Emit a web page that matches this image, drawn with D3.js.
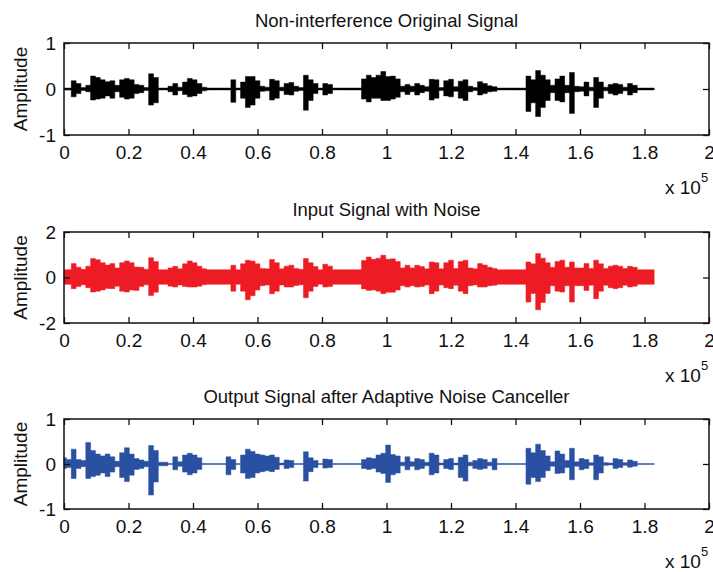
<!DOCTYPE html>
<html>
<head>
<meta charset="utf-8">
<script src="https://cdn.jsdelivr.net/npm/d3@7"></script>
<style>
  body { margin: 0; background: #fff; }
  svg { display: block; font-family: "Liberation Sans", Arial, sans-serif; }
</style>
</head>
<body>
<svg width="713" height="572"></svg>
<script>
var sampleStep = 1500;
var xTicks = [0, 20000, 40000, 60000, 80000, 100000, 120000, 140000, 160000, 180000, 200000];

var origHi = [.02,.02,.18,.12,.03,.08,.28,.25,.2,.16, .18,.08,.2,.23,.2,.1,.08,.03,.33,.25,
  .02,.02,.06,.12,.04,.15,.23,.2,.12,.04, .02,.02,.02,.02,.02,.2,.02,.15,.27,.27,
  .18,.06,.04,.21,.18,.04,.12,.14,.06,.03, .3,.2,.12,.02,.12,.1,.02,.02,.02,.02,
  .02,.02,.22,.3,.25,.3,.38,.27,.28,.22, .06,.1,.06,.12,.08,.05,.21,.2,.03,.18,
  .21,.05,.17,.2,.06,.03,.16,.12,.07,.05, .02,.02,.02,.02,.02,.02,.28,.2,.4,.3,
  .2,.08,.22,.28,.08,.36,.06,.05,.15,.04, .25,.15,.04,.1,.12,.1,.04,.12,.08,.02, .02,.02,.02];
var origLo = [-.02,-.02,-.17,-.1,-.03,-.06,-.24,-.22,-.2,-.15, -.2,-.06,-.18,-.22,-.2,-.1,-.08,-.03,-.35,-.3,
  -.02,-.02,-.06,-.13,-.04,-.12,-.17,-.15,-.1,-.04, -.02,-.02,-.02,-.02,-.02,-.29,-.02,-.2,-.4,-.35,
  -.2,-.05,-.04,-.24,-.2,-.04,-.12,-.13,-.05,-.03, -.46,-.25,-.1,-.02,-.13,-.1,-.02,-.02,-.02,-.02,
  -.02,-.02,-.22,-.28,-.2,-.2,-.25,-.25,-.22,-.18, -.06,-.12,-.06,-.13,-.08,-.05,-.24,-.2,-.03,-.15,
  -.17,-.05,-.2,-.25,-.06,-.03,-.13,-.1,-.06,-.05, -.02,-.02,-.02,-.02,-.02,-.02,-.49,-.3,-.6,-.4,
  -.25,-.08,-.25,-.28,-.08,-.53,-.06,-.05,-.15,-.04, -.4,-.2,-.04,-.1,-.13,-.1,-.04,-.13,-.08,-.02, -.02,-.02,-.02];

var noisyHi = [.34,.34,.61,.45,.36,.5,.83,.78,.65,.55, .61,.42,.65,.73,.65,.46,.45,.36,.87,.7,
  .34,.34,.42,.49,.38,.6,.73,.65,.5,.38, .34,.34,.34,.34,.34,.54,.34,.6,.76,.72,
  .6,.4,.38,.79,.65,.38,.5,.54,.4,.36, .83,.65,.48,.34,.58,.5,.34,.34,.34,.34,
  .34,.34,.75,.9,.8,.85,.98,.8,.82,.7, .42,.54,.42,.54,.48,.38,.68,.65,.38,.65,
  .76,.4,.7,.76,.42,.38,.61,.55,.45,.4, .34,.34,.34,.34,.34,.34,.68,.6,1.05,.85,
  .65,.45,.7,.76,.45,.68,.42,.42,.61,.4, .76,.6,.4,.5,.54,.5,.4,.49,.45,.34, .34,.34,.34];
var noisyLo = [-.3,-.3,-.49,-.4,-.32,-.45,-.64,-.6,-.55,-.48, -.49,-.38,-.6,-.64,-.55,-.57,-.4,-.32,-.79,-.65,
  -.3,-.3,-.38,-.42,-.33,-.4,-.42,-.42,-.38,-.32, -.3,-.3,-.3,-.3,-.3,-.6,-.3,-.6,-.98,-.8,
  -.55,-.36,-.33,-.71,-.6,-.33,-.42,-.42,-.35,-.32, -.89,-.6,-.4,-.3,-.42,-.4,-.3,-.3,-.3,-.3,
  -.3,-.3,-.5,-.57,-.55,-.6,-.71,-.65,-.65,-.55, -.36,-.42,-.36,-.42,-.4,-.33,-.71,-.6,-.33,-.45,
  -.49,-.34,-.6,-.71,-.36,-.33,-.42,-.42,-.36,-.34, -.3,-.3,-.3,-.3,-.3,-.3,-1.08,-.7,-1.42,-1.1,
  -.7,-.36,-.6,-.64,-.36,-1.08,-.36,-.36,-.57,-.34, -.93,-.6,-.34,-.45,-.49,-.45,-.34,-.42,-.38,-.3, -.3,-.3,-.3];

var outHi = [.14,.1,.33,.1,.08,.48,.3,.22,.18,.22, .16,.06,.25,.36,.22,.12,.09,.06,.41,.3,
  .04,.04,.01,.16,.05,.2,.24,.2,.14,.01, .01,.01,.01,.01,.16,.1,.01,.2,.33,.28,
  .22,.2,.18,.2,.15,.02,.09,.08,.01,.01, .27,.14,.08,.01,.11,.1,.01,.01,.01,.01,
  .01,.01,.1,.14,.12,.2,.24,.42,.21,.18, .04,.16,.05,.12,.1,.04,.24,.2,.02,.1,
  .12,.02,.15,.2,.04,.08,.12,.1,.04,.12, .01,.01,.01,.01,.01,.01,.35,.25,.44,.3,
  .18,.05,.29,.22,.08,.35,.05,.12,.1,.03, .2,.16,.03,.02,.12,.1,.03,.09,.06,.01, .01,.01,.01];
var outLo = [-.1,-.08,-.32,-.1,-.06,-.32,-.28,-.25,-.2,-.28, -.18,-.06,-.3,-.39,-.25,-.12,-.1,-.06,-.69,-.4,
  -.04,-.04,-.01,-.13,-.05,-.18,-.24,-.2,-.12,-.01, -.01,-.01,-.01,-.01,-.24,-.12,-.01,-.2,-.32,-.3,
  -.2,-.17,-.15,-.17,-.12,-.02,-.1,-.08,-.01,-.01, -.38,-.17,-.08,-.01,-.09,-.08,-.01,-.01,-.01,-.01,
  -.01,-.01,-.1,-.12,-.1,-.18,-.21,-.41,-.24,-.2, -.04,-.13,-.05,-.13,-.1,-.04,-.24,-.2,-.02,-.1,
  -.12,-.02,-.3,-.38,-.04,-.1,-.12,-.1,-.04,-.13, -.01,-.01,-.01,-.01,-.01,-.01,-.45,-.3,-.39,-.3,
  -.15,-.05,-.21,-.2,-.08,-.35,-.05,-.13,-.1,-.03, -.35,-.2,-.03,-.02,-.1,-.08,-.03,-.07,-.05,-.01, -.01,-.01,-.01];

var titles = ["Non-interference Original Signal", "Input Signal with Noise", "Output Signal after Adaptive Noise Canceller"];
var yTickSets = [[-1, 0, 1], [-2, 0, 2], [-1, 0, 1]];

var panels = [
  {top: 43, bottom: 135, title: titles[0], yTicks: yTickSets[0], hi: origHi, lo: origLo, color: "#000000"},
  {top: 232, bottom: 323, title: titles[1], yTicks: yTickSets[1], hi: noisyHi, lo: noisyLo, color: "#ed1c24"},
  {top: 419, bottom: 509, title: titles[2], yTicks: yTickSets[2], hi: outHi, lo: outLo, color: "#2a50a2"}
];

var svg = d3.select("svg");
var left = 64, right = 709;
var x = d3.scaleLinear().domain([0, 200000]).range([left, right]);

panels.forEach(function(p){
  var y = d3.scaleLinear()
    .domain([p.yTicks[0], p.yTicks[2]])
    .range([p.bottom, p.top]);
  var g = svg.append("g");

  var pts = p.hi.map(function(h, i){
    return {t: i * sampleStep, hi: h, lo: p.lo[i]};
  });
  var area = d3.area()
    .x(function(d){ return x(d.t); })
    .y0(function(d){ return y(d.lo); })
    .y1(function(d){ return y(d.hi); })
    .curve(d3.curveStep);
  g.append("path")
    .datum(pts)
    .attr("d", area)
    .style("fill", p.color)
    .style("stroke", p.color)
    .style("stroke-width", 0.5);

  // axes, ticks pointing inward
  var fmt = function(d){ return String(+(d / 100000).toFixed(1)); };
  g.append("g")
    .attr("transform", "translate(0," + p.bottom + ")")
    .call(d3.axisBottom(x).tickValues(xTicks).tickSizeInner(-6).tickSizeOuter(0).tickPadding(10.5).tickFormat(fmt));
  g.append("g")
    .attr("transform", "translate(0," + p.top + ")")
    .call(d3.axisTop(x).tickValues(xTicks).tickSizeInner(-6).tickSizeOuter(0).tickFormat(""));
  g.append("g")
    .attr("transform", "translate(" + left + ",0)")
    .call(d3.axisLeft(y).tickValues(p.yTicks).tickSizeInner(-6).tickSizeOuter(0).tickPadding(8).tickFormat(function(d){ return String(d); }));
  g.append("g")
    .attr("transform", "translate(" + right + ",0)")
    .call(d3.axisRight(y).tickValues(p.yTicks).tickSizeInner(-6).tickSizeOuter(0).tickFormat(""));

  g.selectAll(".domain").remove();
  g.selectAll(".tick line").style("stroke", "#111").style("stroke-width", 1.3);
  g.selectAll(".tick text")
    .style("font-size", "19px")
    .style("font-family", "'Liberation Sans', Arial, sans-serif")
    .style("fill", "#111");

  g.append("rect")
    .attr("x", left)
    .attr("y", p.top)
    .attr("width", right - left)
    .attr("height", p.bottom - p.top)
    .style("fill", "none")
    .style("stroke", "#111")
    .style("stroke-width", 1.5);

  g.append("text")
    .attr("x", (left + right) / 2)
    .attr("y", p.top - 16)
    .attr("text-anchor", "middle")
    .style("font-size", "18.5px")
    .style("fill", "#111")
    .text(p.title);

  g.append("text")
    .attr("transform", "translate(27," + (p.top + p.bottom) / 2 + ") rotate(-90)")
    .attr("text-anchor", "middle")
    .style("font-size", "19px")
    .style("fill", "#111")
    .text("Amplitude");

  var ex = g.append("text")
    .attr("x", 665)
    .attr("y", p.bottom + 59)
    .style("font-size", "19px")
    .style("fill", "#111")
    .text("x 10");
  ex.append("tspan")
    .attr("dy", -12)
    .style("font-size", "13px")
    .text("5");
});
</script>
</body>
</html>
